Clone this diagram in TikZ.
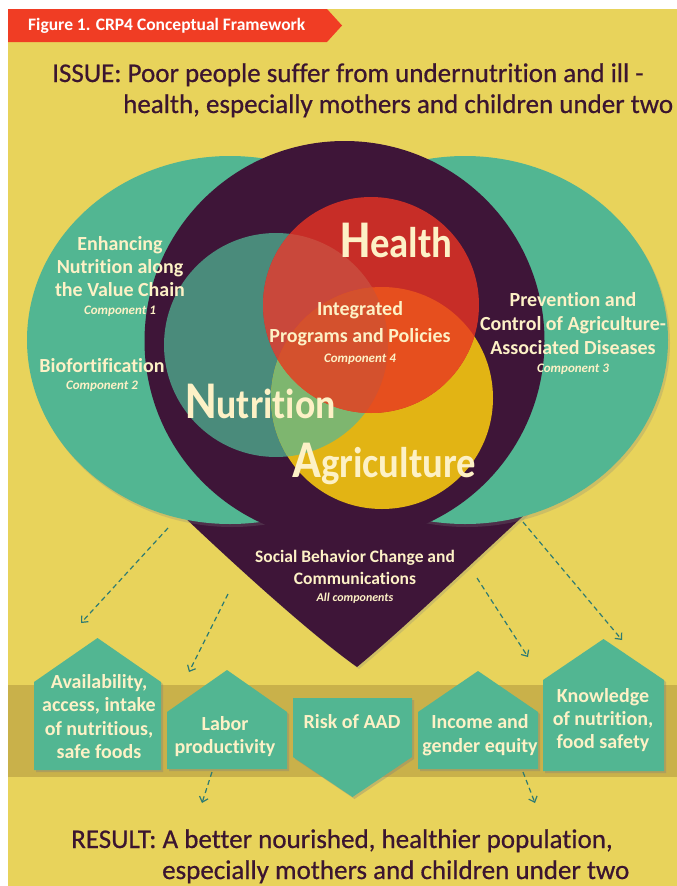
\documentclass[tikz,border=0pt]{standalone}
\usepackage{fontspec}
\setmainfont{Carlito}[Ligatures=NoCommon]
\newfontfamily\bigfnt{Carlito}[FakeStretch=0.9,Ligatures=NoCommon]
\newfontfamily\headfnt{Carlito}[FakeBold=0.6,Ligatures=NoCommon]
\usetikzlibrary{arrows.meta,shadows}
\definecolor{bgyel}{HTML}{E8D35B}
\definecolor{bandc}{HTML}{C9B14A}
\definecolor{bannerred}{HTML}{F03D24}
\definecolor{tealc}{HTML}{52B692}
\definecolor{purp}{HTML}{3E1538}
\definecolor{nutc}{HTML}{4A8B7B}
\definecolor{healc}{HTML}{C72D27}
\definecolor{agric}{HTML}{E2B414}
\definecolor{hac}{HTML}{E64F1E}
\definecolor{nhc}{HTML}{C9483B}
\definecolor{nac}{HTML}{7EB66F}
\definecolor{nhac}{HTML}{D4512D}
\definecolor{cream}{HTML}{FDF1C6}
\definecolor{darktxt}{HTML}{3B1530}
\definecolor{arrc}{HTML}{2E7B72}
\newcommand{\fsz}[1]{\fontsize{#1}{#1}\selectfont}
\begin{document}
\begin{tikzpicture}[x=1pt,y=-1pt,
  lbl/.style={anchor=base,inner sep=0pt,text=cream,font=\bfseries\fsz{20}},
  sbc/.style={anchor=base,inner sep=0pt,text=cream,font=\bfseries\fsz{17.5}},
  comp/.style={anchor=base,inner sep=0pt,text=cream,font=\bfseries\itshape\fsz{13}},
  headtxt/.style={anchor=base west,inner sep=0pt,text=darktxt,font=\headfnt\fsz{27}},
  bigword/.style={anchor=base west,inner sep=0pt,text=cream,font=\bigfnt\bfseries},
  dasharr/.style={draw=arrc,line width=1.2pt,dash pattern=on 5pt off 3.5pt,-{Straight Barb[length=5pt,width=9pt]}},
  boxshape/.style={fill=tealc,drop shadow={opacity=0.35,shadow xshift=2pt,shadow yshift=-2pt}},
  ellshape/.style={fill=tealc,drop shadow={opacity=0.25,shadow xshift=2pt,shadow yshift=-3pt}}]
\useasboundingbox (0,0) rectangle (677,886);
\fill[white] (0,0) rectangle (677,886);
\fill[bgyel] (8,9) rectangle (677,886);
% banner
\fill[bannerred] (8,9) -- (327,9) -- (342,25.5) -- (327,42) -- (8,42) -- cycle;
\node[anchor=base west,inner sep=0pt,text=white,font=\bfseries\fsz{17.5}] (fig) at (28,30) {Figure 1. CRP4 Conceptual Framework};
% issue
\node[headtxt] (iss1) at (52,82) {ISSUE: Poor people suffer from undernutrition and ill -};
\node[headtxt] (iss2) at (123,113) {health, especially mothers and children under two};
% heart
\coordinate (pc) at (344.5,341);
\coordinate (tip) at (357,667);
\fill[purp,drop shadow={opacity=0.25,shadow xshift=2pt,shadow yshift=-2pt}] (130,466) -- (180,513) .. controls (240,570) and (312,635) .. (tip) .. controls (402,630) and (473,562) .. (533,507) -- (573,470) -- (575,300) -- (120,300) -- cycle;
\path[ellshape] (230,340) ellipse [x radius=203pt, y radius=184pt];
\path[ellshape] (465,340) ellipse [x radius=203pt, y radius=184pt];
\fill[purp] (pc) circle [radius=200pt];
% venn
\coordinate (nc) at (276,345);
\coordinate (hc) at (371,305);
\coordinate (ac) at (382,398);
\fill[nutc] (nc) circle [radius=112pt];
\fill[agric] (ac) circle [radius=111pt];
\fill[healc] (hc) circle [radius=108pt];
\begin{scope}
  \clip (nc) circle [radius=112pt];
  \fill[nac] (ac) circle [radius=111pt];
  \fill[nhc] (hc) circle [radius=108pt];
\end{scope}
\begin{scope}
  \clip (hc) circle [radius=108pt];
  \fill[hac] (ac) circle [radius=111pt];
  \clip (nc) circle [radius=112pt];
  \fill[nhac] (ac) circle [radius=111pt];
\end{scope}
% big words
\node[bigword] (health) at (340,257) {\fsz{53}H\fsz{43}ealth};
\node[bigword] (nutr) at (185,418) {\fsz{53}N\fsz{42}utrition};
\node[bigword] (agri) at (292,477) {\fsz{53}A\fsz{43}griculture};
% component texts
\node[lbl] (c1a) at (120,250) {Enhancing};
\node[lbl] (c1b) at (120,273) {Nutrition along};
\node[lbl] (c1c) at (120,296) {the Value Chain};
\node[comp] (c1d) at (120,314) {Component 1};
\node[lbl] (c2a) at (102,372) {Biofortification};
\node[comp] (c2b) at (102,389) {Component 2};
\node[lbl] (c3a) at (573,306) {Prevention and};
\node[lbl] (c3b) at (573,330) {Control of Agriculture-};
\node[lbl] (c3c) at (573,354) {Associated Diseases};
\node[comp] (c3d) at (573,372) {Component 3};
\node[lbl] (c4a) at (360,315) {Integrated};
\node[lbl] (c4b) at (360,342) {Programs and Policies};
\node[comp] (c4c) at (360,362) {Component 4};
\node[sbc] (s1) at (355,562) {Social Behavior Change and};
\node[sbc] (s2) at (355,584) {Communications};
\node[comp,font=\bfseries\itshape\fsz{12}] (s3) at (355,601) {All components};
% band
\fill[bandc] (8,685) rectangle (677,777);
% arrows below boxes
\coordinate (a5s) at (212,772); \coordinate (a5e) at (202,803);
\coordinate (a6s) at (523,772); \coordinate (a6e) at (535,803);
\draw[dasharr] (a5s) -- (a5e);
\draw[dasharr] (a6s) -- (a6e);
% boxes
\path[boxshape] (34,682) -- (97.5,638) -- (161,682) -- (161,770) -- (34,770) -- cycle;
\path[boxshape] (167,712) -- (227,670) -- (287,712) -- (287,769) -- (167,769) -- cycle;
\path[boxshape] (293,698) -- (412,698) -- (412,757) -- (352.5,797) -- (293,757) -- cycle;
\path[boxshape] (418,712) -- (478,671) -- (538,712) -- (538,769) -- (418,769) -- cycle;
\path[boxshape] (543,680) -- (603.5,639) -- (664,680) -- (664,771) -- (543,771) -- cycle;
\node[lbl] (b1a) at (99,688) {Availability,};
\node[lbl] (b1b) at (99,711) {access, intake};
\node[lbl] (b1c) at (99,735) {of nutritious,};
\node[lbl] (b1d) at (99,758) {safe foods};
\node[lbl] (b2a) at (225,730) {Labor};
\node[lbl] (b2b) at (225,753) {productivity};
\node[lbl] (b3a) at (352,728) {Risk of AAD};
\node[lbl] (b4a) at (480,728) {Income and};
\node[lbl] (b4b) at (480,752) {gender equity};
\node[lbl] (b5a) at (603,702) {Knowledge};
\node[lbl] (b5b) at (603,725) {of nutrition,};
\node[lbl] (b5c) at (603,748) {food safety};
% arrows from heart
\coordinate (a1s) at (168,528); \coordinate (a1e) at (81,623);
\coordinate (a2s) at (228,594); \coordinate (a2e) at (189,672);
\coordinate (a3s) at (477,578); \coordinate (a3e) at (528,657);
\coordinate (a4s) at (523,522); \coordinate (a4e) at (622,640);
\draw[dasharr] (a1s) -- (a1e);
\draw[dasharr] (a2s) -- (a2e);
\draw[dasharr] (a3s) -- (a3e);
\draw[dasharr] (a4s) -- (a4e);
% result
\node[headtxt] (res1) at (71,848) {RESULT: A better nourished, healthier population,};
\node[headtxt] (res2) at (162,879) {especially mothers and children under two};
\end{tikzpicture}
\end{document}
